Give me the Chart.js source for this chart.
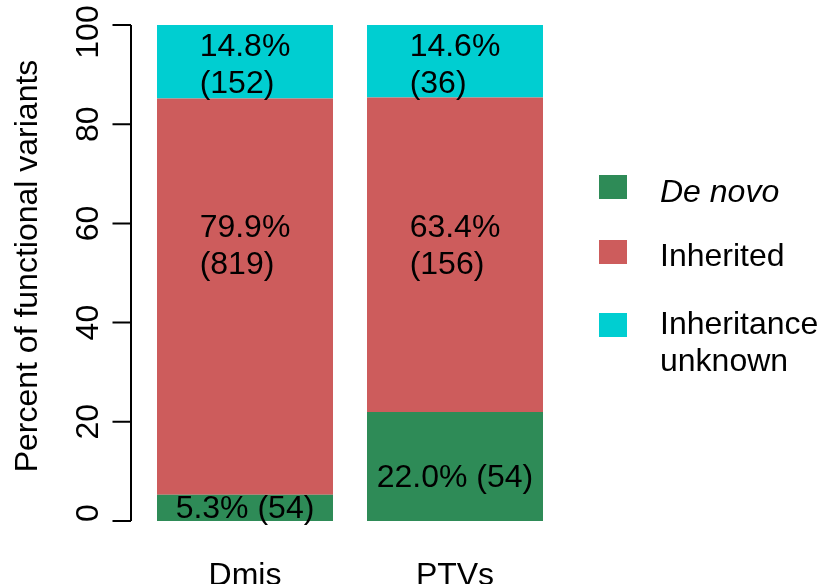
<!DOCTYPE html>
<html>
<head>
<meta charset="utf-8">
<script src="https://cdn.jsdelivr.net/npm/chart.js@4/dist/chart.umd.min.js"></script>
<style>
  body { margin: 0; background: #fff; }
  #wrap { width: 825px; height: 584px; }
</style>
</head>
<body>
<div id="wrap"><canvas id="chart" width="825" height="584"></canvas></div>
<script>
// values
const categories = ['Dmis', 'PTVs'];
const deNovoPct = [5.3, 22.0];
const inheritedPct = [79.9, 63.4];
const unknownPct = [14.8, 14.6];
const deNovoN = [54, 54];
const inheritedN = [819, 156];
const unknownN = [152, 36];
const yTicks = [0, 20, 40, 60, 80, 100];
const seriesNames = ['De novo', 'Inherited', 'Inheritance\nunknown'];
const seriesColors = ['#2E8B57', '#CD5C5C', '#00CED1'];

const FONT = "'Liberation Sans', Arial, sans-serif";
const SIZE = 32;
const CAP = SIZE * 0.358;   // shift from cap centre to baseline
const LINE = 36.5;

// where the text of each segment sits (y units), not the data
const labelAt = [[2.9, 9.2], [55.85, 55.85], [92.3, 92.3]];

const rPlot = {
    id: 'rPlot',
    afterDatasetsDraw(chart) {
        const ctx = chart.ctx;
        const y = chart.scales.y;
        ctx.save();
        ctx.fillStyle = '#000';
        ctx.font = SIZE + 'px ' + FONT;
        ctx.textBaseline = 'alphabetic';
        chart.data.datasets.forEach((ds, di) => {
            const meta = chart.getDatasetMeta(di);
            meta.data.forEach((bar, i) => {
                const pct = ds.data[i].toFixed(1) + '%';
                const n = '(' + ds.counts[i] + ')';
                const cy = y.getPixelForValue(labelAt[di][i]);
                if (di === 0) {
                    ctx.textAlign = 'center';
                    ctx.fillText(pct + ' ' + n, bar.x, cy + CAP);
                } else {
                    const w = Math.max(ctx.measureText(pct).width, ctx.measureText(n).width);
                    const x0 = bar.x - w / 2;
                    ctx.textAlign = 'left';
                    ctx.fillText(pct, x0, cy - LINE / 2 + CAP);
                    ctx.fillText(n, x0, cy + LINE / 2 + CAP);
                }
            });
        });
        ctx.restore();
    },
    afterDraw(chart) {
        const ctx = chart.ctx;
        const y = chart.scales.y;
        ctx.save();
        // y axis, R style: detached from the bars
        const ax = 131;
        ctx.strokeStyle = '#000';
        ctx.lineWidth = 2;
        ctx.beginPath();
        ctx.moveTo(ax, y.getPixelForValue(yTicks[0]));
        ctx.lineTo(ax, y.getPixelForValue(yTicks[yTicks.length - 1]));
        yTicks.forEach(t => {
            const py = y.getPixelForValue(t);
            ctx.moveTo(ax, py);
            ctx.lineTo(ax - 18.5, py);
        });
        ctx.stroke();

        ctx.fillStyle = '#000';
        ctx.font = SIZE + 'px ' + FONT;
        ctx.textAlign = 'center';
        ctx.textBaseline = 'alphabetic';
        yTicks.forEach((t, i) => {
            let py = y.getPixelForValue(t);
            if (i === 0) py -= 8;
            if (i === yTicks.length - 1) py += 7;
            ctx.save();
            ctx.translate(98, py);
            ctx.rotate(-Math.PI / 2);
            ctx.fillText(String(t), 0, 0);
            ctx.restore();
        });

        ctx.save();
        ctx.translate(37, 266);
        ctx.rotate(-Math.PI / 2);
        ctx.fillText('Percent of functional variants', 0, 0);
        ctx.restore();

        // legend
        const boxY = [187, 252, 325];
        const textY = [[191], [254.5], [322.5, 359.5]];
        ctx.textAlign = 'left';
        seriesNames.forEach((name, i) => {
            ctx.fillStyle = seriesColors[i];
            ctx.fillRect(599, boxY[i] - 12, 28, 24);
            ctx.fillStyle = '#000';
            ctx.font = (i === 0 ? 'italic ' : '') + SIZE + 'px ' + FONT;
            name.split('\n').forEach((line, k) => {
                ctx.fillText(line, 660, textY[i][k] + CAP);
            });
        });
        ctx.restore();
    }
};

const ctx = document.getElementById('chart').getContext('2d');
const barChart = new Chart(ctx, {
    type: 'bar',
    data: {
        labels: categories,
        datasets: [
            { label: seriesNames[0], data: deNovoPct, counts: deNovoN, backgroundColor: seriesColors[0] },
            { label: seriesNames[1], data: inheritedPct, counts: inheritedN, backgroundColor: seriesColors[1] },
            { label: seriesNames[2], data: unknownPct, counts: unknownN, backgroundColor: seriesColors[2] }
        ]
    },
    options: {
        responsive: false,
        animation: false,
        devicePixelRatio: 1,
        barPercentage: 176 / 210,
        categoryPercentage: 1,
        borderWidth: 0,
        layout: { padding: { left: 140, right: 265, top: 25, bottom: 0 } },
        plugins: { legend: { display: false }, tooltip: { enabled: false } },
        scales: {
            x: {
                stacked: true,
                grid: { display: false },
                border: { display: false },
                ticks: { color: '#000', padding: 28, font: { family: FONT, size: SIZE } },
                afterFit(scale) { scale.height = 63; }
            },
            y: {
                stacked: true,
                display: false,
                min: 0,
                max: 100
            }
        }
    },
    plugins: [rPlot]
});
</script>
</body>
</html>
